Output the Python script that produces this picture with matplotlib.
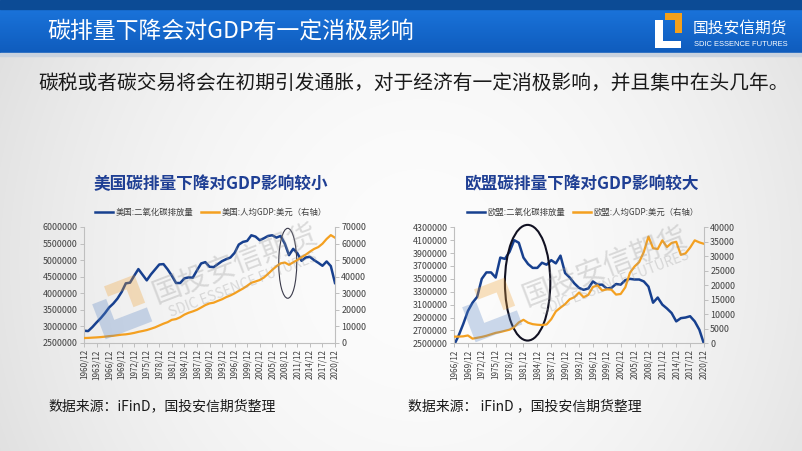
import numpy as np
import matplotlib
matplotlib.use('Agg')
import matplotlib.pyplot as plt
from matplotlib.patches import Ellipse, Polygon, Rectangle
from matplotlib.lines import Line2D

plt.rcParams['font.family'] = ['Noto Sans CJK SC', 'DejaVu Sans']

# ---------------- data ----------------
us_years = list(range(1960, 2021))
us_co2 = [2.87, 2.86, 2.98, 3.12, 3.25, 3.40, 3.57, 3.69, 3.84, 4.04,
          4.30, 4.32, 4.53, 4.73, 4.56, 4.39, 4.57, 4.72, 4.87, 4.88,
          4.72, 4.53, 4.31, 4.31, 4.45, 4.48, 4.47, 4.69, 4.90, 4.94,
          4.80, 4.79, 4.88, 4.97, 5.03, 5.08, 5.22, 5.47, 5.55, 5.58,
          5.75, 5.71, 5.60, 5.66, 5.73, 5.75, 5.68, 5.73, 5.50, 5.15,
          5.34, 5.21, 4.98, 5.08, 5.10, 5.00, 4.92, 4.83, 4.96, 4.82,
          4.31]  # million
us_gdp = [3000, 3070, 3240, 3380, 3570, 3830, 4150, 4340, 4700, 5030,
          5230, 5610, 6090, 6730, 7230, 7800, 8590, 9450, 10560, 11670,
          12580, 13980, 14430, 15540, 17120, 18240, 19070, 20040, 21420, 22860,
          23890, 24340, 25420, 26390, 27690, 28690, 29970, 31460, 32850, 34510,
          36330, 37130, 38000, 39490, 41720, 44120, 46300, 48050, 48570, 47190,
          48650, 50070, 51780, 53290, 55120, 56760, 57870, 59910, 62800, 65100,
          63540]

eu_years = list(range(1966, 2021))
eu_co2 = [2.47, 2.62, 2.80, 3.00, 3.13, 3.22, 3.50, 3.60, 3.60, 3.52,
          3.83, 3.81, 3.92, 4.10, 4.06, 3.83, 3.73, 3.67, 3.67, 3.75,
          3.72, 3.79, 3.74, 3.86, 3.59, 3.52, 3.43, 3.36, 3.33, 3.35,
          3.46, 3.41, 3.41, 3.35, 3.36, 3.42, 3.41, 3.48, 3.50, 3.49,
          3.49, 3.46, 3.38, 3.13, 3.21, 3.10, 3.04, 2.97, 2.84, 2.89,
          2.90, 2.92, 2.84, 2.71, 2.49]  # million
eu_gdp = [2300, 2300, 2400, 2700, 1600, 1900, 2200, 2600, 3100, 3600,
          3900, 4300, 4700, 5600, 7200, 8100, 7100, 6600, 6400, 6300,
          6500, 8300, 11000, 12300, 13500, 15200, 15900, 17500, 15900, 16700,
          19400, 20000, 18200, 18600, 18500, 16800, 17000, 19300, 24300, 26500,
          28000, 31500, 36800, 32800, 32500, 35500, 33200, 34600, 35000, 30500,
          31000, 33000, 35500, 34800, 34300]

us_labels = ['美国:二氧化碳排放量', '美国:人均GDP:美元（右轴）']
eu_labels = ['欧盟:二氧化碳排放量', '欧盟:人均GDP:美元（右轴）']
us_title = '美国碳排量下降对GDP影响较小'
eu_title = '欧盟碳排量下降对GDP影响较大'

BLUE = '#17408f'
ORANGE = '#f4a020'
AXC = '#bfbfbf'
TXT = '#404040'

W, H = 802, 451
fig = plt.figure(figsize=(W / 100, H / 100), dpi=100)

# ---------------- background ----------------
bg = fig.add_axes([0, 0, 1, 1], zorder=0)
yy, xx = np.mgrid[0:H, 0:W]
v = 0.988 - 0.09 * ((xx - 420) / 420) ** 2 - 0.03 * ((yy - 260) / 260) ** 2
img = np.dstack([v, v, v]).clip(0, 1)
bg.imshow(img, extent=(0, W, H, 0), aspect='auto', zorder=0)
hy = np.linspace(0, 1, 44)[:, None, None]
top = np.array([0x1a, 0x73, 0xda]) / 255
bot = np.array([0x0f, 0x5c, 0xbd]) / 255
grad = np.repeat(top * (1 - hy) + bot * hy, W, axis=1)
bg.imshow(grad, extent=(0, W, 53, 9), aspect='auto', zorder=1)
bg.add_patch(Rectangle((0, 0), W, 9, color='#0c4b95', zorder=2))
bg.add_patch(Rectangle((0, 53), W, 3, color='#c9d2de', zorder=2))
bg.set_xlim(0, W)
bg.set_ylim(H, 0)
bg.axis('off')

bg.text(47, 31, '碳排量下降会对GDP有一定消极影响', color='white', fontsize=16.5,
        ha='left', va='center', zorder=3)
# logo
bg.add_patch(Polygon([(655, 20), (663, 20), (663, 41), (681, 41), (681, 48), (655, 48)],
                     closed=True, color='white', lw=0, zorder=3))
bg.add_patch(Polygon([(665, 13), (682, 13), (682, 33), (675, 33), (675, 20), (665, 20)],
                     closed=True, color='#f5a01a', lw=0, zorder=3))
bg.text(693, 29, '国投安信期货', color='white', fontsize=11.3, ha='left', va='center', zorder=3)
bg.text(694, 44, 'SDIC ESSENCE FUTURES', color='white', fontsize=5.4,
        family='Liberation Sans', ha='left', va='center', zorder=3)

bg.text(38, 84, '碳税或者碳交易将会在初期引发通胀，对于经济有一定消极影响，并且集中在头几年。',
        color='#1a1a1a', fontsize=14.2, ha='left', va='center', zorder=3)

bg.text(211, 184, us_title, color='#1f3f94', fontsize=12, fontweight='bold',
        ha='center', va='center', zorder=3)
bg.text(582, 184, eu_title, color='#1f3f94', fontsize=12, fontweight='bold',
        ha='center', va='center', zorder=3)
bg.text(48, 406, '数据来源：iFinD，国投安信期货整理', color='#1a1a1a', fontsize=10,
        ha='left', va='center', zorder=3)
bg.text(408, 406, '数据来源： iFinD ，国投安信期货整理', color='#1a1a1a', fontsize=10,
        ha='left', va='center', zorder=3)


# ---------------- charts ----------------
def style(ax):
    ax.spines['top'].set_visible(False)
    for s in ['left', 'right', 'bottom']:
        ax.spines[s].set_color(AXC)
        ax.spines[s].set_linewidth(0.8)
    ax.tick_params(colors=AXC, labelcolor=TXT, length=3, width=0.7, pad=1.5)


def chart(rect, years, co2, gdp, ylim, ystep, y2lim, y2step, labels, legend_x):
    ax = fig.add_axes(rect, zorder=2)
    ax.set_facecolor('none')
    ax2 = ax.twinx()
    ax2.set_zorder(3)
    ax2.patch.set_visible(False)
    ax.plot(years, [c * 1e6 for c in co2], color=BLUE, lw=1.8, solid_joinstyle='round')
    ax2.plot(years, gdp, color=ORANGE, lw=1.6, solid_joinstyle='round')
    ax.set_xlim(years[0], years[-1])
    ax.set_ylim(*ylim)
    ax2.set_ylim(*y2lim)
    yt = np.arange(ylim[0], ylim[1] + 1, ystep)
    ax.set_yticks(yt)
    ax.set_yticklabels([str(int(t)) for t in yt], fontsize=6.4)
    y2t = np.arange(y2lim[0], y2lim[1] + 1, y2step)
    ax2.set_yticks(y2t)
    ax2.set_yticklabels([str(int(t)) for t in y2t], fontsize=6.4)
    xt = years[::3]
    ax.set_xticks(xt)
    ax.set_xticklabels([f'{y}/12' for y in xt], rotation=90, fontsize=5.8)
    style(ax)
    style(ax2)
    ax2.spines['bottom'].set_visible(False)
    ax2.spines['left'].set_visible(False)
    ax.spines['right'].set_visible(False)
    handles = [Line2D([], [], color=BLUE, lw=1.8), Line2D([], [], color=ORANGE, lw=1.8)]
    leg = fig.legend(handles, labels, loc='center', bbox_to_anchor=(legend_x / W, 1 - 212 / H),
                     ncol=2, frameon=False, fontsize=6, handlelength=2.1, handletextpad=0.3,
                     columnspacing=1.0)
    for t in leg.get_texts():
        t.set_color(TXT)
    return ax, ax2


ax_us, ax_us2 = chart([84 / W, 1 - 343 / H, 251 / W, 116 / H], us_years, us_co2, us_gdp,
                      (2500000, 6000000), 500000, (0, 70000), 10000, us_labels, 211)
ax_eu, ax_eu2 = chart([454 / W, 1 - 343.3 / H, 250 / W, 116 / H], eu_years, eu_co2, eu_gdp,
                      (2500000, 4300000), 200000, (0, 40000), 5000, eu_labels, 583)

ax_us.add_patch(Ellipse((2008.7, 4.905e6), 4.3, 2.11e6, fill=False, ec='#3a3a4a',
                        lw=0.8, clip_on=False, zorder=10))
ax_eu.add_patch(Ellipse((1981.9, 3.44e6), 9.8, 1.795e6, fill=False, ec='#111122',
                        lw=1.5, clip_on=False, zorder=10))

# ---------------- watermarks ----------------
ov = fig.add_axes([0, 0, 1, 1], zorder=5)
ov.set_facecolor('none')
ov.set_xlim(0, W)
ov.set_ylim(H, 0)
ov.axis('off')
th = np.deg2rad(21)
c, s = np.cos(th), np.sin(th)


def tr(pts, cx, cy, S):
    out = []
    for (x, y) in pts:
        x = (x - 0.5) * S
        y = (y - 0.5) * S
        out.append((cx + x * c + y * s, cy - x * s + y * c))
    return out


def watermark(lx, ly, tx, ty, sx, sy):
    L = [(0, 0.25), (0.3, 0.25), (0.3, 0.7), (1, 0.7), (1, 1), (0, 1)]
    O = [(0.35, 0), (1, 0), (1, 0.6), (0.75, 0.6), (0.75, 0.22), (0.35, 0.22)]
    ov.add_patch(Polygon(tr(L, lx, ly, 50), closed=True, color='#5b86c5', alpha=0.3, lw=0))
    ov.add_patch(Polygon(tr(O, lx, ly, 50), closed=True, color='#f0a030', alpha=0.3, lw=0))
    ov.text(tx, ty, '国投安信期货', rotation=21, fontsize=21, color='#999999', alpha=0.32,
            ha='center', va='center', rotation_mode='anchor')
    ov.text(sx, sy, 'SDIC ESSENCE FUTURES', rotation=21, fontsize=10, color='#999999',
            alpha=0.32, ha='center', va='center', rotation_mode='anchor')


watermark(120, 307, 235, 265, 243, 285)
watermark(490, 310, 605, 268, 615, 283)

fig.savefig('out.png', dpi=100)
